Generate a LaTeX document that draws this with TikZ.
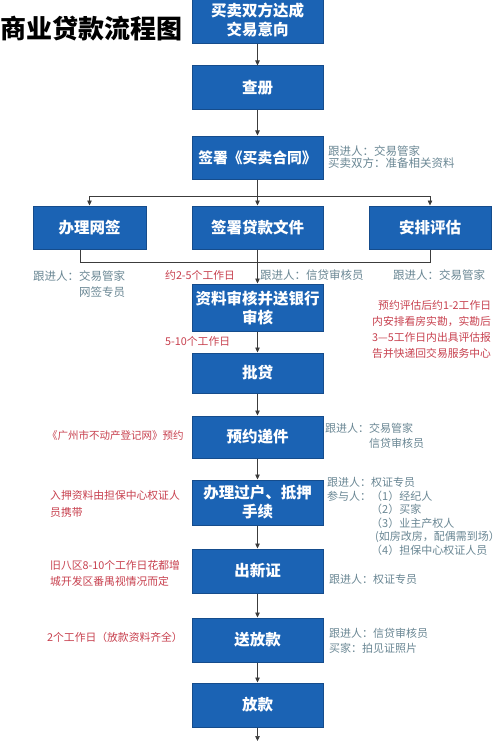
\documentclass[tikz,border=0pt]{standalone}
\usepackage{fontspec}
\setmainfont{Noto Sans CJK SC}
\usetikzlibrary{arrows.meta}
\definecolor{boxfill}{HTML}{1B63B4}
\definecolor{boxline}{HTML}{154C8C}
\definecolor{annGray}{HTML}{6A8794}
\definecolor{annRed}{HTML}{C8414F}
\definecolor{lineGray}{HTML}{3C3C3C}
\begin{document}
\begin{tikzpicture}[x=1pt,y=-1pt,
  box/.style={draw=boxline, line width=1pt, fill=boxfill, text=white,
    font=\fontsize{15.5}{19}\selectfont\bfseries, align=center, inner sep=0pt,
    minimum width=131pt, minimum height=44pt},
  ann/.style={anchor=west, align=left, inner sep=0pt, text=annGray,
    font=\fontsize{11.5}{15}\selectfont},
  note/.style={anchor=west, align=left, inner sep=0pt, text=annRed,
    font=\fontsize{10.8}{16}\selectfont},
  conn/.style={draw=lineGray, line width=0.7pt},
  flow/.style={conn, -{Triangle[length=5pt,width=4.5pt]}},
]
\useasboundingbox (0,0) rectangle (500,741);
\clip (0,0) rectangle (500,741);
\fill[white] (0,0) rectangle (500,741);

% title
\node[anchor=west, inner sep=0pt, font=\fontsize{26}{30}\selectfont\bfseries] (title) at (0,29) {商业贷款流程图};

% boxes
\node[box, minimum height=48pt] (b1) at (257.5,20) {买卖双方达成\\交易意向};
\node[box] (b2) at (257.5,88) {查册};
\node[box, minimum height=43pt, font=\fontsize{14.8}{19}\selectfont\bfseries] (b3) at (257.5,157.5) {签署《买卖合同》};
\node[box, minimum width=113pt, minimum height=43pt] (b4a) at (89.5,227.5) {办理网签};
\node[box, minimum height=43pt] (b4b) at (257.5,227.5) {签署贷款文件};
\node[box, minimum width=122pt, minimum height=43pt] (b4c) at (430,227.5) {安排评估};
\node[box, minimum height=47pt] (b5) at (257.5,307.5) {资料审核并送银行\\审核};
\node[box, minimum height=40pt] (b6) at (257.5,373) {批贷};
\node[box, minimum height=42pt] (b7) at (257.5,437) {预约递件};
\node[box, minimum height=45pt] (b8) at (257.5,502.5) {办理过户、抵押\\手续};
\node[box] (b9) at (257.5,571) {出新证};
\node[box] (b10) at (257.5,640) {送放款};
\node[box] (b11) at (257.5,705) {放款};

% connectors
\draw[flow] (b1) -- (b2);
\draw[flow] (b2) -- (b3);
\coordinate (br) at (257.5,196);
\draw[conn] (b3) -- (br);
\draw[conn] (br -| b4a) -- (br -| b4c);
\draw[flow] (br -| b4a) -- (b4a);
\draw[flow] (br) -- (b4b);
\draw[flow] (br -| b4c) -- (b4c);
\coordinate (mL) at (80,262);
\coordinate (mR) at (430,262);
\draw[conn] (b4a.south -| mL) -- (mL) -- (mR) -- (b4c.south);
\draw[flow] (b4b) -- (b5);
\draw[flow] (b5) -- (b6);
\draw[flow] (b6) -- (b7);
\draw[flow] (b7) -- (b8);
\draw[flow] (b8) -- (b9);
\draw[flow] (b9) -- (b10);
\draw[flow] (b10) -- (b11);
\coordinate (end) at (257.5,741);
\draw[flow] (b11) -- (end);

% annotations
\node[ann, font=\fontsize{11.5}{12.5}\selectfont] (a3) at (328,157) {跟进人：交易管家\\买卖双方：准备相关资料};
\node[ann, font=\fontsize{11.5}{16}\selectfont] (a4a) at (33,284) {跟进人：交易管家\\\phantom{跟进人：}网签专员};
\node[note] (n4) at (165,275) {约2-5个工作日};
\node[ann] (a4b) at (260,275) {跟进人：信贷审核员};
\node[ann] (a4c) at (393,275) {跟进人：交易管家};
\node[note] (n4c) at (372,329.5) {\hspace*{6pt}预约评估后约1-2工作日\\内安排看房实勘，实勘后\\3—5工作日内出具评估报\\告并快递回交易服务中心};
\node[note] (n5) at (165,341) {5-10个工作日};
\node[note, font=\fontsize{10.5}{15}\selectfont] (n7) at (47,436) {《广州市不动产登记网》预约};
\node[ann, font=\fontsize{11}{15}\selectfont] (a7) at (325,435.5) {跟进人：交易管家\\\phantom{跟进人：}信贷审核员};
\node[note, font=\fontsize{10.8}{17}\selectfont] (n8) at (50,503.5) {入押资料由担保中心权证人\\员携带};
\node[ann, font=\fontsize{11}{13.5}\selectfont] (a8) at (327,516.5) {跟进人：权证专员\\参与人：（1）经纪人\\\phantom{参与人：}（2）买家\\\phantom{参与人：}（3）业主产权人\\\phantom{参与人：}\hspace*{4pt}(如房改房，配偶需到场）\\\phantom{参与人：}（4）担保中心权证人员};
\node[note] (n9) at (50,573) {旧八区8-10个工作日花都增\\城开发区番禺视情况而定};
\node[ann, font=\fontsize{11}{15}\selectfont] (a9) at (329,579) {跟进人：权证专员};
\node[note] (n10) at (47,637) {2个工作日（放款资料齐全）};
\node[ann, font=\fontsize{11}{15}\selectfont] (a10) at (329,640.5) {跟进人：信贷审核员\\买家：拍见证照片};
\end{tikzpicture}
\end{document}
